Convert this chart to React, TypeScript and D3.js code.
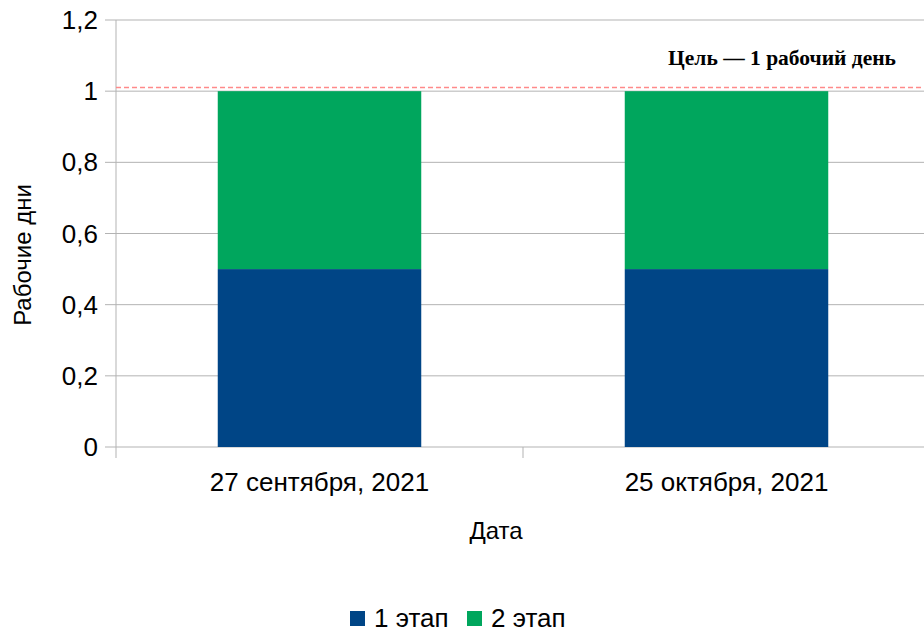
import React from "react";
import * as d3 from "d3";

const categories = ["27 сентября, 2021", "25 октября, 2021"];
const stage1 = [0.5, 0.5];
const stage2 = [0.5, 0.5];
const seriesNames = ["1 этап", "2 этап"];
const seriesColors = ["#004586", "#00a65d"];
const yTicks = [0, 0.2, 0.4, 0.6, 0.8, 1, 1.2];
const targetValue = 1.0105;
const targetLabel = "Цель — 1 рабочий день";

export default function App() {
  const W = 924, H = 630;
  const left = 116, right = 930, top = 20, bottom = 447;
  const x = d3.scaleBand().domain(categories).range([left, right]).paddingInner(0).paddingOuter(0);
  const y = d3.scaleLinear().domain([0, 1.2]).range([bottom, top]);
  const bw = x.bandwidth();
  const barW = bw * 0.5;
  const fmt = (v: number) => String(+v.toFixed(1)).replace(".", ",");
  const font = "'Liberation Sans', Arial, sans-serif";
  const stacked = categories.map((c, i) => {
    const vals = [stage1[i], stage2[i]];
    let acc = 0;
    return vals.map((v) => {
      const r = { y0: acc, y1: acc + v };
      acc += v;
      return r;
    });
  });
  return (
    <svg width={W} height={H} style={{ position: "absolute", left: 0, top: 0 }} fontFamily={font}>
      {yTicks.map((t) => (
        <g key={t}>
          <line x1={105} x2={right} y1={y(t)} y2={y(t)} stroke="#b3b3b3" strokeWidth={1} />
          <text x={98} y={y(t)} dy="0.35em" textAnchor="end" fontSize={26} fill="#000">{fmt(t)}</text>
        </g>
      ))}
      <line x1={left} x2={left} y1={top} y2={bottom + 11} stroke="#b3b3b3" strokeWidth={1} />
      {categories.map((c, i) => (
        <line key={"t" + i} x1={x(c)! + bw} x2={x(c)! + bw} y1={bottom} y2={bottom + 11} stroke="#b3b3b3" />
      ))}
      {categories.map((c, i) =>
        stacked[i].map((s, k) => (
          <rect key={c + k} x={x(c)! + (bw - barW) / 2} width={barW} y={y(s.y1)} height={y(s.y0) - y(s.y1)} fill={seriesColors[k]} />
        ))
      )}
      <line x1={left} x2={W} y1={y(targetValue)} y2={y(targetValue)} stroke="#ff8a8a" strokeWidth={1.5} strokeDasharray="5,3" />
      <text x={896} y={65} textAnchor="end" fontFamily="'Liberation Serif', 'Times New Roman', serif" fontWeight="bold" fontSize={21.5}>{targetLabel}</text>
      {categories.map((c) => (
        <text key={"l" + c} x={x(c)! + bw / 2} y={491} textAnchor="middle" fontSize={26}>{c}</text>
      ))}
      <text x={496} y={539} textAnchor="middle" fontSize={24}>Дата</text>
      <text transform="translate(31,255) rotate(-90)" textAnchor="middle" fontSize={24}>Рабочие дни</text>
      <g>
        {seriesNames.map((n, i) => {
          const lx = i === 0 ? 350 : 467;
          return (
            <g key={n}>
              <rect x={lx} y={611} width={15} height={15} fill={seriesColors[i]} />
              <text x={lx + 24} y={626.5} fontSize={26}>{n}</text>
            </g>
          );
        })}
      </g>
    </svg>
  );
}
